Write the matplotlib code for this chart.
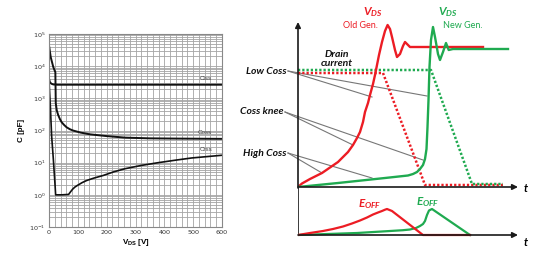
import matplotlib
matplotlib.use('Agg')
import matplotlib.pyplot as plt
import numpy as np
from matplotlib.ticker import MultipleLocator, FixedLocator, NullFormatter

plt.rcParams['mathtext.fontset'] = 'custom'
plt.rcParams['mathtext.it'] = 'Lato:italic:bold'
plt.rcParams['mathtext.rm'] = 'Lato:bold'

# --- left: capacitance vs V_DS (log scale) ---
ciss_v = [0, 3, 8, 15, 30, 100, 300, 600]
ciss_c = [4100, 3200, 2850, 2700, 2650, 2650, 2650, 2650]

coss_v = [0, 6, 15, 22, 23.5, 27, 32, 38, 44, 52, 61, 72, 83, 110, 142, 200, 264, 350, 450, 600]
coss_c = [44000, 19000, 9300, 6500, 700, 420, 300, 225, 180, 150, 126, 110, 100, 86, 76, 67, 60, 57, 56, 55]

crss_v = [0, 5, 9, 15, 21, 23, 45, 68, 75, 82, 90, 100, 115, 131, 155, 188, 225, 264, 320, 379, 440, 495, 550, 600]
crss_c = [3500, 500, 70, 13, 2.0, 1.0, 1.0, 1.03, 1.25, 1.5, 1.75, 2.0, 2.4, 2.8, 3.3, 4.0, 5.2, 6.5, 8.2, 10, 12, 14, 15.5, 17]

cap_labels = ['Ciss', 'Coss', 'Crss']
cap_label_y = [3400, 70, 22]

# --- right: switching waveforms (schematic units) ---
red_vds_t = [0, 4, 12, 24, 40, 50, 55, 59, 62, 65, 67, 70, 72, 75, 77, 79, 81, 84, 87, 89.6,
             92, 94, 97, 99, 102, 105, 107, 110, 112, 119, 185]
red_vds_v = [0, 3.5, 8, 14, 25, 35, 42, 49, 55, 65, 75, 84, 92, 103, 112, 122, 132, 145, 156, 162,
             158, 150, 137, 130, 133, 141, 145, 142, 140, 140, 140]

green_vds_t = [0, 40, 87, 110, 115, 119, 122, 125, 127, 128.5, 129.5, 130.5, 131.5, 133, 135,
               137, 140, 142, 145, 148, 150.7, 155, 210]
green_vds_v = [0, 4, 9, 11.5, 13, 15, 18, 22, 28, 38, 60, 87, 120, 147, 160,
               150, 133, 127, 135, 144, 137, 138, 138]

red_id_t = [0, 85, 127, 205]
red_id_v = [114, 114, 2, 2]
green_id_t = [0, 133, 174, 205]
green_id_v = [117, 117, 3, 3]

red_e_t = [0, 12, 25, 35, 45, 54, 62, 69, 75, 80, 84, 87, 89, 94, 125, 172]
red_e_v = [0, 2, 4, 6, 8.5, 11.5, 14.5, 17.5, 20.5, 22.5, 24, 25.3, 26, 24, 0, 0]
green_e_t = [0, 59, 92, 105, 112, 118, 122, 125, 127, 129, 131, 134, 172]
green_e_v = [0, 2, 4, 4.8, 5.5, 7, 9, 11, 14, 20, 24.5, 26, 0]

# pointer lines: label -> points on the curves
pointer_labels = ['Low Coss', 'Coss knee', 'High Coss']
pointer_start = [(-10, 116), (-13, 75), (-10, 34)]
pointer_ends = [[(74, 90), (129, 91)], [(55, 42), (125, 27)], [(24, 14), (74, 9)]]

RED = '#ec1c24'
GREEN = '#1faa50'
AXC = '#1a1a1a'

fig = plt.figure(figsize=(5.47, 2.58), dpi=100)

W, H = 547, 258
ax = fig.add_axes([49 / W, (H - 227) / H, 173 / W, 193 / H])
ax.set_yscale('log')
ax.set_xlim(0, 600)
ax.set_ylim(0.1, 1e5)
ax.xaxis.set_major_locator(MultipleLocator(100))
ax.xaxis.set_minor_locator(MultipleLocator(20))
decades = [10.0 ** k for k in range(-1, 6)]
ax.yaxis.set_major_locator(FixedLocator(decades))
ax.yaxis.set_minor_locator(FixedLocator([m * d for d in decades[:-1] for m in range(2, 10)]))
ax.yaxis.set_minor_formatter(NullFormatter())
ax.grid(which='both', color='#a4a4a4', lw=0.6)
ax.set_axisbelow(True)
ax.tick_params(which='both', length=0, labelsize=4.6, colors='#333', pad=2.5)
for s in ax.spines.values():
    s.set_color('#888')
    s.set_linewidth(0.8)

ax.plot(ciss_v, ciss_c, color='#111', lw=1.4)
ax.plot(coss_v, coss_c, color='#111', lw=1.4)
ax.plot(crss_v, crss_c, color='#111', lw=1.2)
for lab, yy in zip(cap_labels, cap_label_y):
    ax.text(565, yy, lab, fontsize=4.5, color='#444', ha='right', va='bottom',
            family='Liberation Sans')
ax.set_xlabel(r'V$_{\mathregular{DS}}$ [V]', fontsize=5.8, fontweight='bold',
              family='Liberation Sans', labelpad=1)
ax.set_ylabel('C [pF]', fontsize=5.8, fontweight='bold', family='Liberation Sans',
              labelpad=3)

# upper right: V_DS and drain current
axv = fig.add_axes([298 / W, (H - 187) / H, (W - 298) / W, 187 / H])
axv.set_xlim(0, W - 298)
axv.set_ylim(0, 187)
axv.axis('off')

for (sx, sy), ends in zip(pointer_start, pointer_ends):
    for ex, ey in ends:
        axv.plot([sx, ex], [sy, ey], color='#777', lw=0.8, clip_on=False)

axv.plot(red_id_t, red_id_v, color=RED, lw=1.8, dashes=(0.9, 0.8), dash_capstyle='butt')
axv.plot(green_id_t, green_id_v, color=GREEN, lw=1.8, dashes=(0.9, 0.8), dash_capstyle='butt')
axv.plot(red_vds_t, red_vds_v, color=RED, lw=1.7)
axv.plot(green_vds_t, green_vds_v, color=GREEN, lw=1.7)

axv.annotate('', xy=(0, 165), xytext=(0, -1),
             arrowprops=dict(arrowstyle='-|>', color=AXC, lw=1.2, mutation_scale=8,
                             shrinkA=0, shrinkB=0), annotation_clip=False)
axv.annotate('', xy=(220, 0), xytext=(0, 0),
             arrowprops=dict(arrowstyle='-|>', color=AXC, lw=1.2, mutation_scale=8,
                             shrinkA=0, shrinkB=0), annotation_clip=False)
axv.text(228, -1, 't', fontsize=8, fontweight='bold', style='italic', family='Lato',
         ha='center', va='center')

for lab, (sx, sy) in zip(pointer_labels, pointer_start):
    axv.text(sx - 1, sy, lab, fontsize=7.5, fontweight='bold', style='italic',
             family='Lato', ha='right', va='center', color='#111')

axv.text(39, 128, 'Drain\ncurrent', fontsize=7.5, fontweight='bold', style='italic',
         family='Lato', ha='center', va='center', color='#111', linespacing=1.0)
axv.text(75, 175, r'$V_{DS}$', fontsize=8.5, color=RED, ha='center', va='center')
axv.text(62, 162, 'Old Gen.', fontsize=6.5, color=RED, family='Lato', ha='center', va='center')
axv.text(150, 175, r'$V_{DS}$', fontsize=8.5, color=GREEN, ha='center', va='center')
axv.text(165, 162, 'New Gen.', fontsize=6.5, color=GREEN, family='Lato', ha='center', va='center')

# lower right: E_OFF
axe = fig.add_axes([298 / W, 0, (W - 298) / W, (H - 187) / H])
axe.set_xlim(0, W - 298)
axe.set_ylim(235 - H, 48)
axe.axis('off')
axe.plot([0, 0], [0, 48], color=AXC, lw=1.2, solid_capstyle='butt')
axe.plot(green_e_t, green_e_v, color=GREEN, lw=1.6)
axe.plot(red_e_t, red_e_v, color=RED, lw=1.6)
axe.annotate('', xy=(220, 0), xytext=(0, 0),
             arrowprops=dict(arrowstyle='-|>', color=AXC, lw=1.2, mutation_scale=8,
                             shrinkA=0, shrinkB=0), annotation_clip=False)
axe.text(228, -7, 't', fontsize=8, fontweight='bold', style='italic', family='Lato',
         ha='center', va='center')
axe.text(72, 31, r'$E_{OFF}$', fontsize=8.5, color=RED, ha='center', va='center')
axe.text(130, 33, r'$E_{OFF}$', fontsize=8.5, color=GREEN, ha='center', va='center')

fig.savefig('out.png', dpi=100, facecolor='white')
